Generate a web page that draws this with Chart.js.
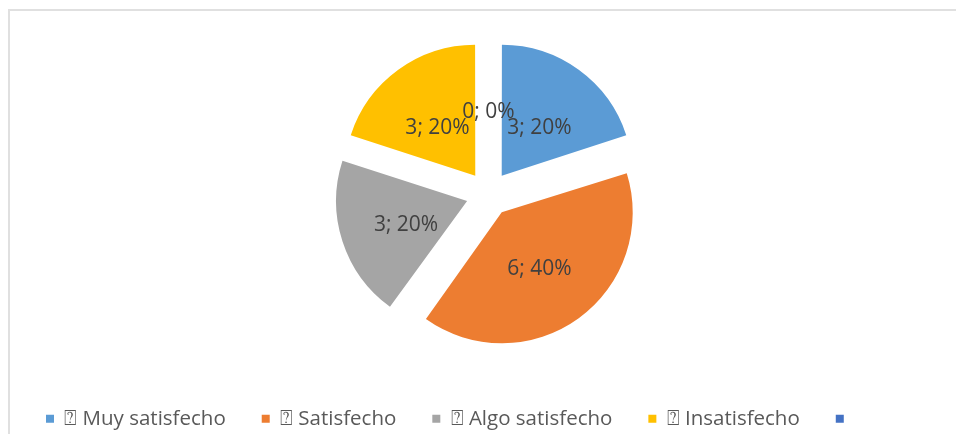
<!DOCTYPE html>
<html>
<head>
<meta charset="utf-8">
<script src="https://cdn.jsdelivr.net/npm/chart.js@4"></script>
<style>
  html, body { margin: 0; padding: 0; width: 956px; height: 434px; overflow: hidden; background: #fff; }
  #frame { position: absolute; left: 8px; top: 9px; width: 1000px; height: 500px; border-left: 2px solid #e0e0e0; border-top: 2px solid #e0e0e0; }
  #wrap { position: absolute; left: 10px; top: 0; width: 957px; height: 439px; }
</style>
</head>
<body>
<div id="frame"></div>
<div id="wrap"><canvas id="pie"></canvas></div>
<script>
const categories = ['\u2370 Muy satisfecho', '\u2370 Satisfecho', '\u2370 Algo satisfecho', '\u2370 Insatisfecho', '']
const values = [3, 6, 3, 3, 0]
const colors = ['#5B9BD5', '#ED7D31', '#A5A5A5', '#FFC000', '#4472C4']

const total = values.reduce((a, b) => a + b, 0)

// chart.js grows a moved slice's radius by offset/4 * (1 - sin(angle)), undo that so all slices keep one radius
const sameRadius = {
  id: 'sameRadius',
  afterUpdate(chart) {
    chart.getDatasetMeta(0).data.forEach(arc => {
      const circ = arc.endAngle - arc.startAngle
      const fix = 1 - Math.sin(Math.min(Math.PI, circ))
      arc.outerRadius -= arc.options.offset / 4 * fix
    })
  }
}

// writes "value; percent" on each slice, like the spreadsheet labels
const sliceLabels = {
  id: 'sliceLabels',
  afterDatasetsDraw(chart) {
    const ctx = chart.ctx
    const meta = chart.getDatasetMeta(0)
    const r = meta.controller.outerRadius
    ctx.save()
    ctx.font = '21px "Open Sans"'
    ctx.fillStyle = '#404040'
    ctx.textAlign = 'center'
    ctx.textBaseline = 'middle'
    meta.data.forEach((arc, i) => {
      const mid = (arc.startAngle + arc.endAngle) / 2
      const dist = arc.options.offset / 4 + r * 0.49
      const x = arc.x + Math.cos(mid) * dist
      const y = arc.y + Math.sin(mid) * dist + 4.5
      const pct = Math.round(values[i] / total * 100)
      ctx.fillText(values[i] + '; ' + pct + '%', x, y)
    })
    ctx.restore()
  }
}

const pie = new Chart(document.getElementById('pie'), {
  type: 'pie',
  data: {
    labels: categories,
    datasets: [{
      data: values,
      backgroundColor: colors,
      borderWidth: 0,
      offset: 90,
      hoverOffset: 90
    }]
  },
  options: {
    responsive: true,
    maintainAspectRatio: false,
    animation: false,
    events: [],
    radius: 131,
    layout: { padding: { top: 15.5 } },
    plugins: {
      tooltip: { enabled: false },
      legend: {
        position: 'bottom',
        align: 'start',
        labels: {
          boxWidth: 8,
          boxHeight: 8,
          padding: 36,
          color: '#595959',
          font: { family: '"Open Sans"', size: 20.5 }
        }
      }
    }
  },
  plugins: [sameRadius, sliceLabels]
})
</script>
</body>
</html>
